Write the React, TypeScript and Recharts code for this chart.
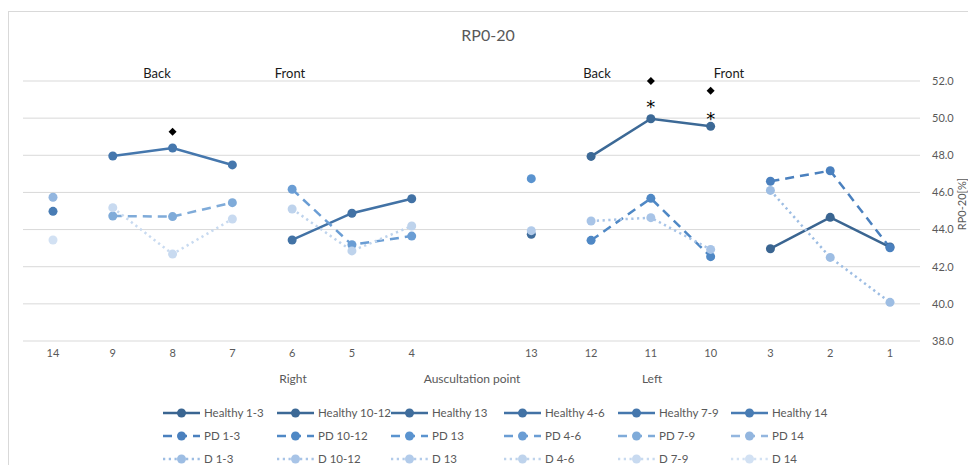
import React from 'react';
import { LineChart, Line, XAxis, YAxis, CartesianGrid } from 'recharts';

const N = null;

// x categories (blank slot between 4 and 13)
const categories = ['14', '9', '8', '7', '6', '5', '4', '', '13', '12', '11', '10', '3', '2', '1'];
const yTicks = [38, 40, 42, 44, 46, 48, 50, 52];

// Healthy
const healthy1_3 = [N, N, N, N, N, N, N, N, N, N, N, N, 42.97, 44.66, 43.06];
const healthy10_12 = [N, N, N, N, N, N, N, N, N, 47.94, 49.97, 49.56, N, N, N];
const healthy13 = [N, N, N, N, N, N, N, N, 43.75, N, N, N, N, N, N];
const healthy4_6 = [N, N, N, N, 43.44, 44.88, 45.66, N, N, N, N, N, N, N, N];
const healthy7_9 = [N, 47.96, 48.39, 47.48, N, N, N, N, N, N, N, N, N, N, N];
const healthy14 = [44.98, N, N, N, N, N, N, N, N, N, N, N, N, N, N];
// PD
const pd1_3 = [N, N, N, N, N, N, N, N, N, N, N, N, 46.6, 47.17, 43.02];
const pd10_12 = [N, N, N, N, N, N, N, N, N, 43.42, 45.68, 42.54, N, N, N];
const pd13 = [N, N, N, N, N, N, N, N, 46.74, N, N, N, N, N, N];
const pd4_6 = [N, N, N, N, 46.17, 43.18, 43.65, N, N, N, N, N, N, N, N];
const pd7_9 = [N, 44.73, 44.7, 45.45, N, N, N, N, N, N, N, N, N, N, N];
const pd14 = [45.74, N, N, N, N, N, N, N, N, N, N, N, N, N, N];
// D
const d1_3 = [N, N, N, N, N, N, N, N, N, N, N, N, 46.11, 42.5, 40.08];
const d10_12 = [N, N, N, N, N, N, N, N, N, 44.46, 44.64, 42.93, N, N, N];
const d13 = [N, N, N, N, N, N, N, N, 43.94, N, N, N, N, N, N];
const d4_6 = [N, N, N, N, 45.11, 42.85, 44.19, N, N, N, N, N, N, N, N];
const d7_9 = [N, 45.18, 42.68, 44.57, N, N, N, N, N, N, N, N, N, N, N];
const d14 = [43.44, N, N, N, N, N, N, N, N, N, N, N, N, N, N];

// significance markers
const diamondMarks = [N, N, 49.27, N, N, N, N, N, N, N, 52.0, 51.48, N, N, N];
const starMarks = [N, N, N, N, N, N, N, N, N, N, 50.74, 50.1, N, N, N];

type Kind = 'solid' | 'dash' | 'dot';
const series: { name: string; values: (number | null)[]; color: string; kind: Kind }[] = [
  { name: 'Healthy 1-3', values: healthy1_3, color: '#3a6591', kind: 'solid' },
  { name: 'Healthy 10-12', values: healthy10_12, color: '#3c6996', kind: 'solid' },
  { name: 'Healthy 13', values: healthy13, color: '#3f6d9c', kind: 'solid' },
  { name: 'Healthy 4-6', values: healthy4_6, color: '#4272a5', kind: 'solid' },
  { name: 'Healthy 7-9', values: healthy7_9, color: '#4577ad', kind: 'solid' },
  { name: 'Healthy 14', values: healthy14, color: '#487cb4', kind: 'solid' },
  { name: 'PD 1-3', values: pd1_3, color: '#4a80be', kind: 'dash' },
  { name: 'PD 10-12', values: pd10_12, color: '#4f88c5', kind: 'dash' },
  { name: 'PD 13', values: pd13, color: '#5a93cf', kind: 'dash' },
  { name: 'PD 4-6', values: pd4_6, color: '#6a9dd4', kind: 'dash' },
  { name: 'PD 7-9', values: pd7_9, color: '#7fabd9', kind: 'dash' },
  { name: 'PD 14', values: pd14, color: '#93b6df', kind: 'dash' },
  { name: 'D 1-3', values: d1_3, color: '#9dbde3', kind: 'dot' },
  { name: 'D 10-12', values: d10_12, color: '#a8c4e7', kind: 'dot' },
  { name: 'D 13', values: d13, color: '#b2cbea', kind: 'dot' },
  { name: 'D 4-6', values: d4_6, color: '#bed3ec', kind: 'dot' },
  { name: 'D 7-9', values: d7_9, color: '#c8daf0', kind: 'dot' },
  { name: 'D 14', values: d14, color: '#d2e1f3', kind: 'dot' },
];

const data = categories.map((c, i) => {
  const row: Record<string, any> = { cat: c };
  series.forEach((s, j) => {
    row['s' + j] = s.values[i];
  });
  row.diamond = diamondMarks[i];
  row.star = starMarks[i];
  return row;
});

const FONT = "Lato, 'Open Sans', sans-serif";
const TXT = '#595959';
const dashFor = (k: Kind) => (k === 'dash' ? '9 6' : k === 'dot' ? '2.25 3.5' : undefined);

const DiamondDot = (props: any) => {
  const { cx, cy, index } = props;
  if (cx == null || cy == null || props.value == null) return <g key={'dm' + index} />;
  const s = 4;
  return (
    <path
      key={'dm' + index}
      d={`M${cx},${cy - s} L${cx + s},${cy} L${cx},${cy + s} L${cx - s},${cy} Z`}
      fill="#000"
    />
  );
};

const StarDot = (props: any) => {
  const { cx, cy, index } = props;
  if (cx == null || cy == null || props.value == null) return <g key={'st' + index} />;
  return (
    <text
      key={'st' + index}
      x={cx}
      y={cy + 9}
      textAnchor="middle"
      fontSize={18}
      fill="#000"
      fontFamily="'DejaVu Sans', sans-serif"
    >
      *
    </text>
  );
};

const abs = (x: number, y: number, extra: React.CSSProperties = {}): React.CSSProperties => ({
  position: 'absolute',
  left: x,
  top: y,
  transform: 'translate(-50%, -50%)',
  whiteSpace: 'nowrap',
  color: TXT,
  ...extra,
});

const W = 968;
const H = 457;

const Overlay = () => {
  const colX = [155, 269, 383, 496, 610, 723];
  const rowY = [405, 428, 451];
  return (
    <svg width={W} height={H} style={{ position: 'absolute', left: 0, top: 0, pointerEvents: 'none' }}>
      <text
        x={953}
        y={196}
        transform="rotate(-90 953 196)"
        textAnchor="middle"
        dominantBaseline="central"
        fontSize={11}
        fill={TXT}
        fontFamily={FONT}
      >
        RP0-20[%]
      </text>
      {series.map((s, i) => {
        const x = colX[i % 6];
        const y = rowY[Math.floor(i / 6)];
        return (
          <g key={s.name}>
            <line
              x1={x}
              x2={x + 37}
              y1={y}
              y2={y}
              stroke={s.color}
              strokeWidth={2.5}
              strokeDasharray={dashFor(s.kind)}
            />
            <circle cx={x + 18.5} cy={y} r={4.5} fill={s.color} />
            <text x={x + 41} y={y + 4} fontSize={11.5} fill={TXT} fontFamily={FONT}>
              {s.name}
            </text>
          </g>
        );
      })}
    </svg>
  );
};

export default function App() {
  return (
    <div style={{ position: 'relative', width: W, height: H, fontFamily: FONT, overflow: 'hidden' }}>
      <div
        style={{
          position: 'absolute',
          left: 0,
          top: 3,
          right: 0,
          bottom: 0,
          borderTop: '1px solid #d9d9d9',
          borderLeft: '1px solid #d9d9d9',
        }}
      />
      <div style={abs(480, 26, { fontSize: 16 })}>RP0-20</div>
      <div style={abs(149, 65, { fontSize: 13, color: '#1a1a1a' })}>Back</div>
      <div style={abs(282, 65, { fontSize: 13, color: '#1a1a1a' })}>Front</div>
      <div style={abs(589, 65, { fontSize: 13, color: '#1a1a1a' })}>Back</div>
      <div style={abs(721, 65, { fontSize: 13, color: '#1a1a1a' })}>Front</div>
      <div style={abs(285, 370, { fontSize: 12 })}>Right</div>
      <div style={abs(464, 370, { fontSize: 12 })}>Auscultation point</div>
      <div style={abs(644, 370, { fontSize: 12 })}>Left</div>
      <div style={{ position: 'absolute', left: 0, top: 0 }}>
        <LineChart width={W} height={370} data={data} margin={{ top: 73, right: 12, left: 15, bottom: 7 }}>
          <CartesianGrid horizontal vertical={false} stroke="#d9d9d9" strokeWidth={1} />
          <XAxis
            dataKey="cat"
            axisLine={false}
            tickLine={false}
            tickSize={4}
            tickMargin={4}
            height={30}
            interval={0}
            padding={{ left: 30, right: 30 }}
            tick={{ fontSize: 11, fill: TXT, fontFamily: FONT }}
          />
          <YAxis
            orientation="right"
            domain={[38, 52]}
            ticks={yTicks}
            axisLine={false}
            tickLine={false}
            tickSize={6}
            tickMargin={6}
            width={44}
            tickFormatter={(v: number) => v.toFixed(1)}
            tick={{ fontSize: 11, fill: TXT, fontFamily: FONT, textAnchor: 'start' }}
          />
          {series.map((s, j) => (
            <Line
              key={s.name}
              dataKey={'s' + j}
              name={s.name}
              stroke={s.color}
              strokeWidth={2.5}
              strokeDasharray={dashFor(s.kind)}
              dot={{ r: 4.5, fill: s.color, stroke: 'none', strokeWidth: 0 }}
              activeDot={false}
              isAnimationActive={false}
              connectNulls={false}
              legendType="none"
            />
          ))}
          <Line dataKey="diamond" stroke="none" dot={DiamondDot} activeDot={false} isAnimationActive={false} legendType="none" />
          <Line dataKey="star" stroke="none" dot={StarDot} activeDot={false} isAnimationActive={false} legendType="none" />
        </LineChart>
      </div>
      <Overlay />
    </div>
  );
}
